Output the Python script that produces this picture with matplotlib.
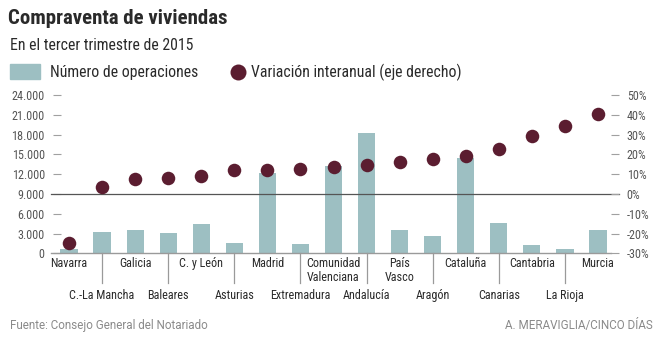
import matplotlib
matplotlib.use("Agg")
import matplotlib.pyplot as plt
from matplotlib.patches import Rectangle
from matplotlib.lines import Line2D
from matplotlib import font_manager as fm

names = {f.name for f in fm.fontManager.ttflist}
COND = 'Roboto'
for cand in ['Roboto Condensed', 'Archivo Narrow', 'Fira Sans Condensed', 'IBM Plex Sans Condensed',
             'Asap Condensed', 'PT Sans Narrow', 'Barlow Semi Condensed', 'Pragati Narrow',
             'Liberation Sans Narrow']:
    if cand in names:
        COND = cand
        break
plt.rcParams['font.family'] = [COND, 'DejaVu Sans']
REG = ['Roboto', 'DejaVu Sans']

regions = ["Navarra", "C.-La Mancha", "Galicia", "Baleares", "C. y León", "Asturias",
           "Madrid", "Extremadura", "Comunidad\nValenciana", "Andalucía", "País\nVasco",
           "Aragón", "Cataluña", "Canarias", "Cantabria", "La Rioja", "Murcia"]
operaciones = [700, 3250, 3600, 3050, 4420, 1580, 12200, 1480, 13300, 18270,
               3500, 2640, 14400, 4620, 1270, 710, 3600]
variacion = [-25.0, 3.4, 7.4, 8.3, 9.3, 12.2, 12.2, 12.7, 13.5, 14.4,
             16.1, 17.9, 19.3, 22.7, 29.1, 34.2, 40.3]
left_ticks = [0, 3000, 6000, 9000, 12000, 15000, 18000, 21000, 24000]
left_labels = ["0", "3.000", "6.000", "9.000", "12.000", "15.000", "18.000", "21.000", "24.000"]
right_ticks = [-30, -20, -10, 0, 10, 20, 30, 40, 50]
right_labels = ["-30%", "-20%", "-10%", "0%", "10%", "20%", "30%", "40%", "50%"]

BAR = "#9dbfc2"
DOT = "#5b1d30"
TXT = "#555555"
DARK = "#2a2a2a"
W, H = 664, 341
fig = plt.figure(figsize=(W / 100, H / 100), dpi=100)
fig.patch.set_facecolor("white")

x0, x1, ytop, ybot = 52.5, 614.5, 95, 253.3
axw = x1 - x0
ax = fig.add_axes([x0 / W, 1 - ybot / H, axw / W, (ybot - ytop) / H])
ax2 = ax.twinx()

xs = list(range(len(regions)))
ax.bar(xs, operaciones, width=0.52, color=BAR, zorder=2)
ax.set_xlim(-0.5, len(regions) - 0.5)
ax.set_ylim(0, 24000)
ax.set_yticks(left_ticks)
ax.set_yticklabels(left_labels)

ytrans = ax.get_yaxis_transform()  # x in axes coords, y in data
ax.add_line(Line2D([-1.5 / axw, (619 - x0) / axw], [9000, 9000], transform=ytrans,
                   color="#555555", lw=0.9, zorder=3, clip_on=False))
ax.add_line(Line2D([-1.5 / axw, (611 - x0) / axw], [0, 0], transform=ytrans,
                   color="#9a9a9a", lw=1.0, zorder=3, clip_on=False))

ax2.scatter(xs, variacion, s=95, color=DOT, zorder=5, clip_on=False, linewidths=0)
ax2.set_ylim(-30, 50)
ax2.set_yticks(right_ticks)
ax2.set_yticklabels(right_labels)

for a in (ax, ax2):
    for s in a.spines.values():
        s.set_visible(False)
ax.tick_params(axis="y", direction="in", length=5.8, width=0.8, color="#a0a0a0",
               labelcolor=TXT, labelsize=8.7, pad=5.5)
ax2.tick_params(axis="y", direction="inout", length=5.8, width=0.8, color="#a0a0a0",
                labelcolor=TXT, labelsize=8.7, pad=6)
ax.tick_params(axis="x", length=0, labelbottom=False)
ax2.set_zorder(ax.get_zorder() + 1)
ax2.patch.set_visible(False)

trans = ax.get_xaxis_transform()
hpx = ybot - ytop
for i, name in enumerate(regions):
    if i % 2 == 0:
        ax.annotate(name, xy=(i, 0), xycoords=trans, xytext=(0, -4 * 0.72),
                    textcoords="offset points", ha="center", va="top",
                    fontsize=8.7, color=DARK, linespacing=1.05)
    else:
        ax.add_line(Line2D([i, i], [0, -30 / hpx], transform=trans, color="#9a9a9a",
                           lw=0.9, clip_on=False))
        ax.annotate(name, xy=(i, 0), xycoords=trans, xytext=(0, -42 * 0.72),
                    textcoords="offset points", ha="center", va="center",
                    fontsize=8.7, color=DARK)

# Title and subtitle
fig.text(8 / W, 1 - 19 / H, "Compraventa de viviendas", fontsize=15, fontweight="bold",
         color=DARK, va="center", ha="left")
fig.text(10 / W, 1 - 45 / H, "En el tercer trimestre de 2015", fontsize=11.3,
         color=DARK, va="center", ha="left")
# Legend
fig.patches.append(Rectangle((10 / W, 1 - 79 / H), 30 / W, 15 / H, transform=fig.transFigure,
                             color=BAR))
fig.text(50 / W, 1 - 72 / H, "Número de operaciones", fontsize=11.3, color=DARK,
         va="center", ha="left")
fig.add_artist(Line2D([238 / W], [1 - 72 / H], marker="o", markersize=11.5, color=DOT,
                      markeredgewidth=0, transform=fig.transFigure, linestyle="none"))
fig.text(251 / W, 1 - 72 / H, "Variación interanual (eje derecho)", fontsize=11.3,
         color=DARK, va="center", ha="left")
# Footer
fig.text(10 / W, 1 - 326 / H, "Fuente: Consejo General del Notariado", fontsize=8.4,
         color="#8a8a8a", va="center", ha="left", family=REG)
fig.text(653 / W, 1 - 326 / H, "A. MERAVIGLIA/CINCO DÍAS", fontsize=8.4,
         color="#8a8a8a", va="center", ha="right", family=REG)

fig.savefig("out.png", dpi=100, facecolor="white")
